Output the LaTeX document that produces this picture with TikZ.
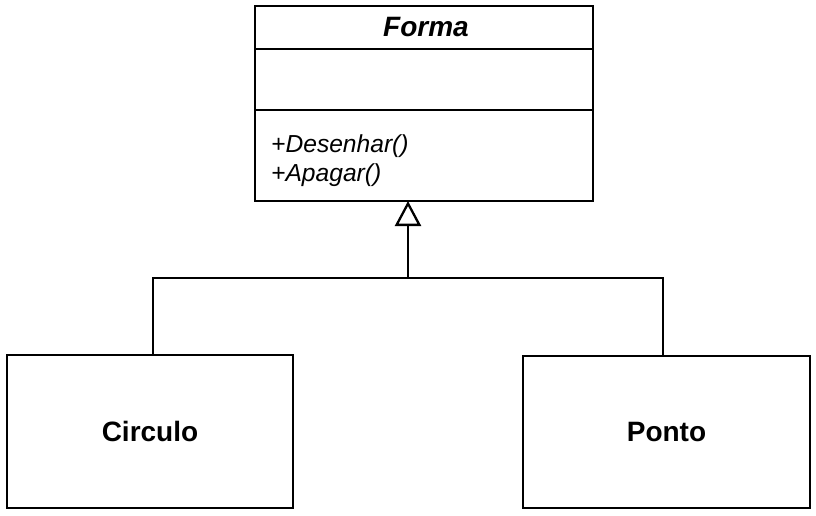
\documentclass[tikz,border=0pt]{standalone}
\usepackage{fontspec}
\setmainfont{Liberation Sans}
\usetikzlibrary{arrows.meta}
\tikzset{
  umlbox/.style={draw=black, line width=2.5pt, fill=white, inner sep=0pt, outer sep=0pt},
  conn/.style={draw=black, line width=2.5pt},
  inherit/.style={-{Triangle[open, length=25pt, width=26pt, line width=2.3pt]}},
  titletext/.style={font=\fontsize{28}{30}\selectfont\bfseries\itshape, inner sep=0pt, anchor=base},
  classtext/.style={font=\fontsize{28}{30}\selectfont\bfseries},
  methtext/.style={font=\fontsize{24.6}{29}\selectfont\itshape, inner sep=0pt, anchor=base west}
}
\begin{document}
\begin{tikzpicture}[x=1pt, y=-1pt]
\useasboundingbox (0,0) rectangle (816,516);
% Forma class
\node[umlbox, minimum width=338pt, minimum height=195pt] (forma) at (424,103.5) {};
\coordinate (d1) at (255,49);
\coordinate (d2) at (255,110);
\draw[conn] (d1) -- (d1 -| forma.east);
\draw[conn] (d2) -- (d2 -| forma.east);
\node[titletext] (title) at (426,36.5) {Forma};
\node[methtext] (m1) at (271,152.7) {+Desenhar()};
\node[methtext] (m2) at (271,181.7) {+Apagar()};
% subclasses
\node[umlbox, minimum width=286pt, minimum height=153pt, classtext] (circulo) at (150,431.5) {Circulo};
\node[umlbox, minimum width=287pt, minimum height=152pt, classtext] (ponto) at (666.5,432) {Ponto};
% connectors
\coordinate (j) at (408,278);
\coordinate (jc) at (153,278);
\coordinate (jp) at (663,278);
\draw[conn, inherit] (j) -- (j |- forma.south);
\draw[conn] (circulo.north -| jc) -- (jc) -- (jp) -- (ponto.north -| jp);
\end{tikzpicture}
\end{document}
